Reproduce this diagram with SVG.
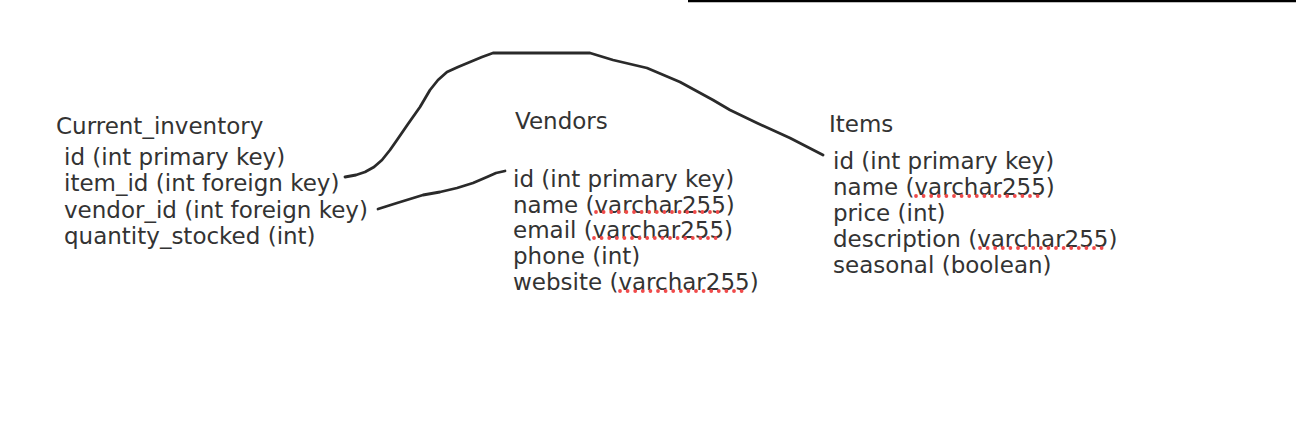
<svg xmlns="http://www.w3.org/2000/svg" width="1296" height="422" viewBox="0 0 1296 422">
<style>
text{font-family:"DejaVu Sans",Verdana,sans-serif;font-size:23px;fill:#333}
.conn{fill:none;stroke:#2a2a2a;stroke-width:2.8;stroke-linecap:round;stroke-linejoin:round}
.spell{fill:none;stroke:#f04a4a;stroke-width:3.8;stroke-linecap:round;stroke-dasharray:0 7.6}
</style>
<rect width="1296" height="422" fill="#fff"/>
<line x1="688" y1="1" x2="1296" y2="1" stroke="#000" stroke-width="2.5"/>
<g id="connectors">
<path class="conn" d="M345,177 L356,175 L365,172 L374,167 L382,160 L390,150 L397,140 L408,124 L420,107 L430,90 L438,80 L447,72 L458,67 L470,62 L482,57 L493,53 L590,53 L613,60 L647,68 L680,82 L713,100 L730,110 L757,123 L790,138 L823,155"/>
<path class="conn" d="M378,209 L397,203 L423,195 L440,192 L457,188 L473,183 L487,177 L496,173 L505,171"/>
</g>
<g id="current_inventory">
<text x="56" y="134">Current_inventory</text>
<text x="64" y="165">id (int primary key)</text>
<text x="64" y="191">item_id (int foreign key)</text>
<text x="64" y="218">vendor_id (int foreign key)</text>
<text x="64" y="244">quantity_stocked (int)</text>
</g>
<g id="vendors">
<text x="515" y="129">Vendors</text>
<text x="513" y="187">id (int primary key)</text>
<text x="513" y="213">name (varchar255)</text>
<text x="513" y="238">email (varchar255)</text>
<text x="513" y="264">phone (int)</text>
<text x="513" y="290">website (varchar255)</text>
<path class="spell" d="M596,212 H718 M594,238 H716 M620,291 H742"/>
</g>
<g id="items">
<text x="829" y="132">Items</text>
<text x="833" y="169">id (int primary key)</text>
<text x="833" y="195">name (varchar255)</text>
<text x="833" y="221">price (int)</text>
<text x="833" y="247">description (varchar255)</text>
<text x="833" y="273">seasonal (boolean)</text>
<path class="spell" d="M916,196 H1038 M980,248 H1102"/>
</g>
</svg>
